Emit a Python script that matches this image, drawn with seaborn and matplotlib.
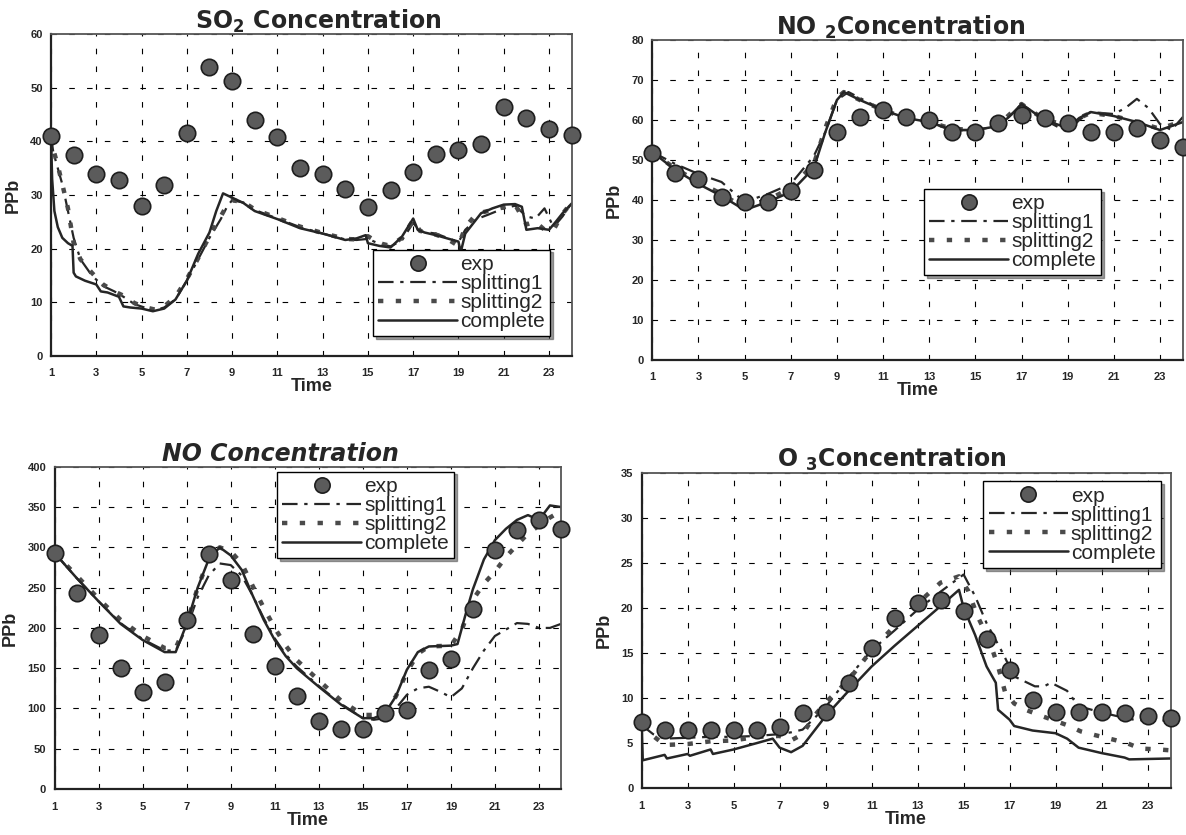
import numpy as np
import pandas as pd
import matplotlib
matplotlib.use("Agg")
import matplotlib.pyplot as plt
import seaborn as sns
from matplotlib.lines import Line2D

sns.set_style("white")
plt.rcParams['font.family'] = ['Liberation Sans', 'DejaVu Sans']

# ---------------- data ----------------
hours = list(range(1, 25))

# SO2
so2_exp = [41, 37.5, 34, 32.8, 28, 31.9, 41.5, 53.8, 51.2, 43.9, 40.8, 35, 34, 31.2,
           27.8, 30.9, 34.2, 37.6, 38.4, 39.6, 46.5, 44.3, 42.4, 41.2]
so2_complete_t = [1, 1.05, 1.15, 1.3, 1.5, 1.75, 1.95, 2.0, 2.1, 2.5, 3.0, 3.2, 3.5, 4.0, 4.2,
                  4.5, 5.0, 5.5, 6.0, 6.5, 7.0, 7.5, 8.0, 8.3, 8.6, 9.0, 9.5, 10.0, 11.0, 12.0,
                  13.0, 14.0, 14.5, 14.9, 15.0, 15.5, 16.0, 16.5, 17.0, 17.2, 17.5, 18.0, 18.5,
                  19.0, 19.1, 19.3, 20.0, 20.5, 21.0, 21.5, 21.8, 22.0, 22.5, 23.0, 23.3, 23.6, 24.0]
so2_complete = [41, 33, 27, 24, 22, 21, 20.5, 15.5, 14.8, 14, 13.3, 12, 11.8, 11, 9.2,
                9, 8.8, 8.3, 8.8, 10.5, 14, 19, 23, 27, 30.3, 29.5, 28.5, 27, 25.5, 23.8,
                22.8, 21.6, 21.9, 22.5, 21.0, 20.5, 20.2, 22.2, 25.6, 23.5, 23, 22.5, 21.9,
                21.3, 19.3, 22.8, 26.6, 27.5, 28.2, 28.3, 27.8, 23.5, 23.8, 23.5, 25, 26.6, 28.4]
so2_split_t = [1, 1.1, 1.3, 1.5, 1.75, 2, 2.3, 2.8, 3.3, 3.8, 4.2, 4.7, 5.2, 5.6, 6, 6.5, 7,
               7.5, 8, 8.5, 8.8, 9, 9.5, 10, 11, 12, 13, 14, 14.5, 15, 15.5, 16, 16.5, 17,
               17.3, 18, 18.5, 19, 19.3, 19.8, 20.3, 21, 21.5, 22, 22.4, 22.8, 23.2, 23.6, 24]
so2_split1 = [41, 38, 35, 32, 27, 22, 18, 15, 13, 12, 11, 9.6, 8.9, 8.5, 9, 10.5, 14,
              18, 22, 25.5, 28, 29, 28.6, 27.2, 25.6, 24, 22.8, 21.7, 21.6, 21.8, 20.9, 20.4,
              21.5, 24.8, 23.2, 22.8, 22, 21.2, 23.5, 25.5, 26.3, 27.5, 28, 26, 25.6, 27.5,
              24, 26, 28.5]
so2_split2 = [41, 38.5, 35.5, 32, 27.5, 21, 18, 15.5, 13.3, 12, 11.2, 9.8, 9, 8.6, 9.2, 11,
              14.3, 18.2, 22.3, 26, 28.3, 29, 28.7, 27.3, 25.7, 24.1, 22.9, 21.8, 21.7, 22.3,
              21, 20.5, 22, 25.3, 23.3, 22.6, 21.8, 20.5, 24, 26.5, 27, 27.7, 28.2, 24.5, 25,
              23.5, 23.5, 26.5, 28.6]

# NO2
no2_exp = [51.7, 46.7, 45.3, 40.8, 39.6, 39.6, 42.3, 47.5, 57.1, 60.7, 62.5, 60.8, 60, 57.1,
           57.1, 59.2, 61.3, 60.4, 59.2, 57.1, 57.1, 57.9, 55, 53.3]
no2_complete_t = [1, 2, 3, 4, 5, 5.5, 6, 7, 8, 8.5, 9, 9.3, 10, 11, 12, 13, 14, 15, 16, 16.5,
                  17, 17.5, 18, 19, 19.5, 20, 21, 22, 23, 24]
no2_complete = [52, 47.5, 44, 41, 37.5, 38.5, 39.5, 42, 48, 57, 65, 67, 65, 62.5, 60.5, 59.5,
                57.5, 57.5, 58.5, 61, 64, 62, 60, 58, 60.5, 62, 61, 59.5, 57.5, 59.5]
no2_split2 = [52, 47.8, 44.5, 41.5, 38, 39, 40, 43, 49, 58, 65.5, 67, 65, 62.5, 60.5, 59.5,
              57.8, 57.5, 58.8, 61.5, 64, 62, 60.2, 58.5, 60.5, 61.8, 61, 59.5, 57.8, 59.8]
no2_split1_t = [1, 2, 3, 4, 5, 6, 7, 8, 8.5, 9, 9.5, 10, 11, 12, 13, 14, 15, 16, 16.5, 17,
                17.5, 18, 19, 19.5, 20, 21, 21.5, 22, 22.5, 23, 23.5, 24]
no2_split1 = [52, 49, 46.5, 44.5, 39.5, 41.5, 44, 51, 57, 65, 67, 65.5, 62.5, 60.5, 59.5,
              57.5, 57.5, 58.5, 61, 64, 62, 60, 57, 60, 62, 61.5, 63, 65.3, 63, 59, 57.5, 60.8]

# NO
no_exp = [293, 243, 191, 150, 121, 133, 210, 292, 260, 193, 153, 115, 84, 74, 74, 94, 98,
          148, 162, 224, 297, 321, 334, 323]
no_complete_t = [1, 2, 3, 4, 5, 6, 6.5, 7, 7.5, 8, 8.5, 9, 9.5, 10, 10.5, 11, 11.5, 12, 13,
                 14, 15, 15.5, 16, 16.5, 17, 17.5, 18, 19, 19.3, 19.7, 20, 20.5, 21, 21.5, 22,
                 22.5, 23, 23.5, 24]
no_complete = [293, 262, 233, 205, 185, 170, 170, 205, 250, 285, 300, 290, 272, 240, 210, 185,
               165, 150, 127, 105, 88, 88, 94, 115, 148, 170, 177, 178, 180, 220, 248, 285,
               309, 323, 334, 340, 334, 352, 350]
no_split2_t = [1, 2, 3, 4, 5, 6, 6.5, 7, 7.5, 8, 8.5, 9, 9.5, 10, 10.5, 11, 11.5, 12, 13, 14,
               15, 15.5, 16, 16.5, 17, 17.5, 18, 19, 19.5, 20, 20.5, 21, 21.5, 22, 22.5, 23,
               23.5, 24]
no_split2 = [293, 265, 236, 210, 190, 175, 175, 205, 250, 285, 300, 295, 280, 252, 225, 200,
             178, 160, 135, 110, 92, 92, 96, 115, 145, 168, 177, 178, 198, 235, 255, 270, 288,
             303, 317, 327, 337, 345]
no_split1_t = [1, 2, 3, 4, 5, 6, 6.5, 7, 7.5, 8, 8.5, 9, 9.5, 10, 10.5, 11, 11.5, 12, 13, 14,
               15, 15.5, 16, 16.5, 17, 17.5, 18, 18.5, 19, 19.5, 20, 20.5, 21, 21.5, 22, 22.5,
               23, 23.5, 24]
no_split1 = [293, 262, 233, 206, 186, 172, 172, 200, 238, 265, 280, 278, 265, 240, 212, 187,
             167, 152, 128, 106, 88, 86, 88, 100, 117, 125, 127, 121, 114, 125, 150, 172, 190,
             198, 206, 205, 200, 200, 205]

# O3
o3_exp = [7.4, 6.5, 6.5, 6.5, 6.5, 6.5, 6.8, 8.3, 8.4, 11.7, 15.6, 18.9, 20.5, 20.9, 19.7,
          16.5, 13.1, 9.8, 8.5, 8.5, 8.4, 8.3, 8.0, 7.8]
o3_complete_t = [1, 1.05, 2, 2.1, 3, 3.1, 4, 4.1, 5, 6, 6.7, 7, 7.5, 8, 9, 10, 11, 12, 13, 14,
                 14.8, 15, 15.5, 16, 16.4, 16.5, 17, 17.2, 18, 19, 19.5, 20, 21, 22, 22.2, 24]
o3_complete = [7.0, 3.1, 3.7, 3.3, 3.8, 3.6, 4.3, 3.8, 4.3, 5.0, 5.5, 4.5, 4.0, 4.7, 8.0, 10.8,
               13.5, 15.8, 18.0, 20.2, 22.0, 20.0, 17.0, 13.5, 11.7, 8.7, 7.6, 6.9, 6.4, 6.1,
               5.5, 4.5, 3.9, 3.4, 3.2, 3.3]
o3_split2_t = [1, 1.5, 2, 3, 4, 5, 6, 7, 7.5, 8, 8.5, 9, 10, 11, 12, 13, 14, 14.8, 15.2, 15.6,
               16.1, 16.5, 16.8, 17.2, 17.7, 18.3, 19.5, 20.1, 20.7, 21.5, 22.1, 22.7, 23.5, 24]
o3_split2 = [7.0, 5.8, 4.8, 4.9, 5.2, 5.3, 5.7, 5.8, 5.3, 6.0, 8.0, 9.5, 12, 15.3, 18, 20.5,
             22.8, 23.5, 21.9, 19.1, 16.5, 13.5, 10.7, 9.4, 8.7, 8.1, 7.0, 6.3, 5.9, 5.4, 5.0,
             4.4, 4.3, 4.2]
o3_split1_t = [1, 1.5, 2, 3, 4, 5, 6, 7, 7.5, 8, 9, 10, 11, 12, 13, 14, 15, 15.5, 16, 16.7,
               17.2, 18.1, 18.5, 18.8, 19.5, 20, 21, 22, 22.4, 23, 24]
o3_split1 = [7.0, 6.0, 5.5, 5.6, 5.7, 5.7, 5.8, 6.0, 6.2, 6.5, 9.0, 12.3, 15.3, 17.5, 19.8,
             21.8, 23.7, 21.3, 18.3, 15.0, 12.4, 11.3, 11.3, 11.7, 10.8, 9.1, 8.4, 7.8, 7.6,
             7.5, 7.5]

labels = ["exp", "splitting1", "splitting2", "complete"]

# ---------------- styles ----------------
LINE_C = "#262626"
S1 = dict(color=LINE_C, lw=1.6, linestyle=(0, (7, 3, 1.5, 3)))
S2 = dict(color="#4a4a4a", lw=3.2, linestyle=(0, (1.2, 2.8)))
SC = dict(color=LINE_C, lw=1.8, linestyle="-")
MFC, MEC = "#5b5b5b", "#1e1e1e"
TITLE_FONT = ["DejaVu Sans"]

fig = plt.figure(figsize=(11.86, 8.35), dpi=100)


def panel(rect, title, title_x, italic, ymax, ystep, exp, s1, s2, sc, leg_anchor):
    ax = fig.add_axes(rect)
    ax.set_facecolor("white")
    sns.lineplot(x=s1[0], y=s1[1], ax=ax, estimator=None, sort=False, legend=False, **S1)
    sns.lineplot(x=s2[0], y=s2[1], ax=ax, estimator=None, sort=False, legend=False, **S2)
    sns.lineplot(x=sc[0], y=sc[1], ax=ax, estimator=None, sort=False, legend=False, **SC)
    sns.scatterplot(x=hours, y=exp, ax=ax, s=140, color=MFC, edgecolor=MEC,
                    linewidth=1.2, zorder=5, legend=False, clip_on=False)
    ax.set_xlim(1, 24)
    ax.set_ylim(0, ymax)
    ax.set_xticks(list(range(1, 24, 2)))
    ax.set_yticks(list(range(0, ymax + 1, ystep)))
    ax.grid(True, color="k", linestyle=(0, (5, 11)), linewidth=0.8)
    for side in ["left", "bottom"]:
        ax.spines[side].set_color("#222222")
        ax.spines[side].set_linewidth(1.6)
    for side in ["top", "right"]:
        ax.spines[side].set_color("#555555")
        ax.spines[side].set_linewidth(1.3)
    ax.tick_params(axis="both", labelsize=8, length=2, width=0.8, pad=4)
    for lab in ax.get_xticklabels() + ax.get_yticklabels():
        lab.set_fontweight("bold")
    ax.tick_params(axis="x", pad=7)
    ax.set_xlabel("Time", fontsize=13, fontweight="bold", labelpad=0)
    ax.set_ylabel("PPb", fontsize=13, fontweight="bold", labelpad=6)
    ax.set_title(title, fontsize=17, fontweight="bold", family=TITLE_FONT,
                 fontstyle="italic" if italic else "normal", x=title_x, pad=4)
    handles = [
        Line2D([], [], marker="o", ls="none", ms=11, mfc=MFC, mec=MEC, mew=1.2),
        Line2D([], [], **S1),
        Line2D([], [], **S2),
        Line2D([], [], **SC),
    ]
    leg = ax.legend(handles, labels, loc="upper left", bbox_to_anchor=leg_anchor,
                    fontsize=15, frameon=True, fancybox=False, framealpha=1,
                    edgecolor="black", shadow={"color": "0.25"},
                    handlelength=3.8, handletextpad=0.15, labelspacing=0.0,
                    borderpad=0.25, borderaxespad=0.0)
    leg.get_frame().set_linewidth(1.0)
    leg.set_zorder(10)
    return ax


panel([0.043, 0.574, 0.439, 0.385], r"SO$\mathregular{_2}$ Concentration", 0.514, False,
      60, 10, so2_exp, (so2_split_t, so2_split1), (so2_split_t, so2_split2),
      (so2_complete_t, so2_complete), (0.618, 0.33))
panel([0.550, 0.569, 0.4475, 0.383], r"NO $\mathregular{_2}$Concentration", 0.467, False,
      80, 10, no2_exp, (no2_split1_t, no2_split1), (no2_complete_t, no2_split2),
      (no2_complete_t, no2_complete), (0.512, 0.535))
panel([0.046, 0.055, 0.427, 0.386], "NO Concentration", 0.447, True,
      400, 50, no_exp, (no_split1_t, no_split1), (no_split2_t, no_split2),
      (no_complete_t, no_complete), (0.439, 0.985))
panel([0.541, 0.056, 0.446, 0.378], r"O $\mathregular{_3}$Concentration", 0.473, False,
      35, 5, o3_exp, (o3_split1_t, o3_split1), (o3_split2_t, o3_split2),
      (o3_complete_t, o3_complete), (0.646, 0.972))

fig.savefig("out.png", dpi=100, facecolor="white")
